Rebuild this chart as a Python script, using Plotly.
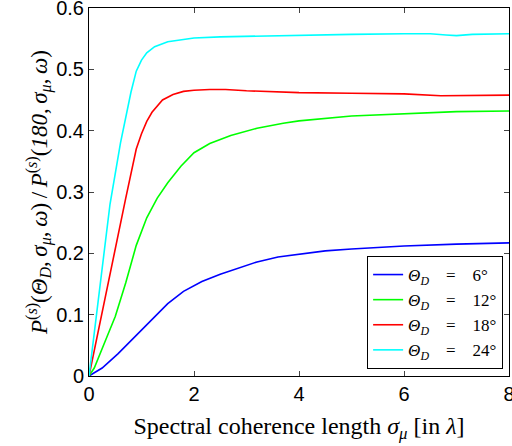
import plotly.graph_objects as go

cyan_x = [0, 0.2, 0.4, 0.6, 0.8, 0.9, 1.0, 1.1, 1.25, 1.5, 2.0, 2.5, 3, 4, 5, 6, 6.5, 6.8, 7.0, 7.3, 8]
cyan_y = [0, 0.145, 0.28, 0.38, 0.463, 0.497, 0.515, 0.527, 0.537, 0.545, 0.551, 0.553, 0.554, 0.556, 0.557, 0.558, 0.558, 0.556, 0.555, 0.557, 0.558]

red_x = [0, 0.3, 0.5, 0.7, 0.9, 1.0, 1.1, 1.2, 1.4, 1.6, 1.8, 2.0, 2.3, 2.6, 3, 3.6, 4, 5, 6, 6.7, 7, 8]
red_y = [0, 0.125, 0.21, 0.29, 0.37, 0.395, 0.415, 0.43, 0.45, 0.459, 0.464, 0.466, 0.467, 0.467, 0.465, 0.463, 0.462, 0.461, 0.46, 0.457, 0.457, 0.458]

green_x = [0, 0.1, 0.3, 0.5, 0.7, 0.9, 1.1, 1.3, 1.5, 1.75, 2.0, 2.3, 2.7, 3.2, 3.7, 4, 5, 6, 7, 8]
green_y = [0, 0.013, 0.055, 0.097, 0.152, 0.213, 0.258, 0.29, 0.315, 0.342, 0.364, 0.379, 0.392, 0.404, 0.412, 0.416, 0.424, 0.428, 0.431, 0.432]

blue_x = [0, 0.25, 0.55, 0.9, 1.2, 1.5, 1.8, 2.15, 2.5, 2.8, 3.2, 3.6, 4, 4.5, 5, 5.5, 6, 7, 8]
blue_y = [0, 0.013, 0.036, 0.066, 0.092, 0.118, 0.138, 0.154, 0.166, 0.175, 0.186, 0.194, 0.199, 0.204, 0.207, 0.21, 0.212, 0.215, 0.217]

eq = "\u2003=\u2003"
series_names = ["<i>Θ<sub>D</sub></i>" + eq + "6°", "<i>Θ<sub>D</sub></i>" + eq + "12°",
                "<i>Θ<sub>D</sub></i>" + eq + "18°", "<i>Θ<sub>D</sub></i>" + eq + "24°"]
x_ticks = [0, 2, 4, 6, 8]
y_ticks = [0, 0.1, 0.2, 0.3, 0.4, 0.5, 0.6]
y_ticktext = ["0", "0.1", "0.2", "0.3", "0.4", "0.5", "0.6"]

fig = go.Figure()
for xs, ys, name, col in [(blue_x, blue_y, series_names[0], "#0000ff"),
                          (green_x, green_y, series_names[1], "#00ff00"),
                          (red_x, red_y, series_names[2], "#ff0000"),
                          (cyan_x, cyan_y, series_names[3], "#00ffff")]:
    fig.add_trace(go.Scatter(x=xs, y=ys, mode="lines", name=name,
                             line=dict(color=col, width=1.6)))

serif = "Liberation Serif, DejaVu Serif, serif"
sp = "\u2009"
ytitle = ("<i>P</i><sup>(<i>s</i>)</sup>(<i>Θ<sub>D</sub></i>," + sp + "<i>σ<sub>μ</sub></i>," + sp + "<i>ω</i>)"
          + sp + "/" + sp + "<i>P</i><sup>(<i>s</i>)</sup>(<i>180</i>," + sp + "<i>σ<sub>μ</sub></i>," + sp + "<i>ω</i>)")
fig.update_layout(
    width=512, height=446,
    margin=dict(l=89, r=3, t=8, b=70),
    plot_bgcolor="white", paper_bgcolor="white",
    font=dict(family="Liberation Sans, Arial, sans-serif", size=20, color="black"),
    showlegend=True,
    legend=dict(x=0.986, y=0.019, xanchor="right", yanchor="bottom",
                bgcolor="white", bordercolor="black", borderwidth=1,
                font=dict(family=serif, size=17), tracegroupgap=0,
                itemwidth=30),
    xaxis=dict(range=[0, 8], tickvals=x_ticks, ticks="inside", ticklen=5,
               showline=True, linecolor="black", linewidth=1, mirror="ticks",
               showgrid=False, zeroline=False, automargin=False,
               ticklabeloverflow="allow",
               title=dict(text="Spectral coherence length <i>σ<sub>μ</sub></i> [in <i>λ</i>]",
                          font=dict(family=serif, size=24), standoff=13)),
    yaxis=dict(range=[0, 0.6], tickvals=y_ticks, ticktext=y_ticktext,
               ticks="inside", ticklen=5,
               showline=True, linecolor="black", linewidth=1, mirror="ticks",
               showgrid=False, zeroline=False, automargin=False,
               ticklabeloverflow="allow",
               title=dict(text=ytitle, font=dict(family=serif, size=23), standoff=2)),
)
fig.write_html("out.html", config={"displayModeBar": False},
               post_script="document.body.style.margin='0';")
